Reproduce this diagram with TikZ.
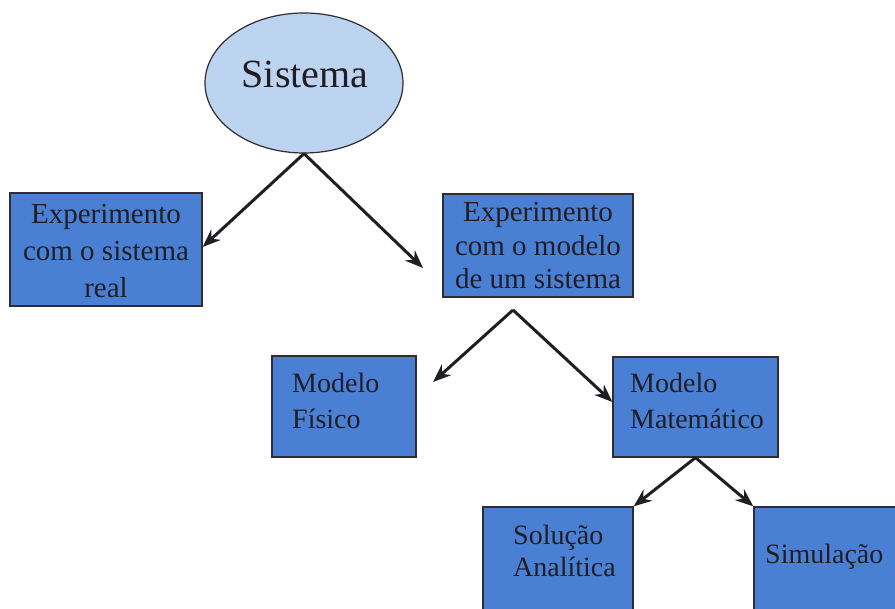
\documentclass[tikz,border=0pt]{standalone}
\usepackage{fontspec}
\setmainfont{Liberation Serif}
\usetikzlibrary{arrows.meta,shapes.geometric}
\definecolor{boxblue}{RGB}{74,128,212}
\definecolor{ellblue}{RGB}{188,212,240}
\definecolor{inkgray}{RGB}{32,30,36}
\definecolor{edgegray}{RGB}{45,45,50}
\tikzset{
  boxshape/.style={draw=edgegray, line width=1.3pt, fill=boxblue, rectangle, inner sep=0pt},
  txt/.style={text=inkgray, inner sep=0pt, font=\fontsize{28}{36}\selectfont},
  arr/.style={draw=inkgray, line width=3pt, -{Stealth[length=18pt,width=14pt]}},
}
\begin{document}
\begin{tikzpicture}[x=1pt,y=-1pt]
  \useasboundingbox (0,0) rectangle (895,609);
  \clip (0,0) rectangle (895,609);
  \fill[white] (0,0) rectangle (895,609);

  % root ellipse
  \node[draw=edgegray, line width=1.2pt, fill=ellblue, ellipse, minimum width=198pt, minimum height=140pt, inner sep=0pt] (sis) at (304,83) {};
  \node[text=inkgray, inner sep=0pt, font=\fontsize{40}{44}\selectfont] (sist) at (305,74) {Sistema};

  % boxes
  \node[boxshape, minimum width=192pt, minimum height=113pt] (real) at (106,249.5) {};
  \node[txt, align=center, font=\fontsize{29}{37}\selectfont] (realt) at (106,251) {Experimento\\com o sistema\\real};

  \node[boxshape, minimum width=190pt, minimum height=103pt] (mod) at (538,245.5) {};
  \node[txt, align=center, font=\fontsize{29}{33.5}\selectfont] (modt) at (538,246) {Experimento\\com o modelo\\de um sistema};

  \node[boxshape, minimum width=144pt, minimum height=101pt] (fis) at (344,406.5) {};
  \node[txt, align=left, anchor=west] (fist) at (292,401) {Modelo\\Físico};

  \node[boxshape, minimum width=165pt, minimum height=100pt] (mat) at (695.5,407) {};
  \node[txt, align=left, anchor=west] (matt) at (630,401) {Modelo\\Matemático};

  \node[boxshape, minimum width=150pt, minimum height=120pt] (ana) at (558,567) {};
  \node[txt, align=left, anchor=west, font=\fontsize{28}{32}\selectfont] (anat) at (513,551) {Solução\\Analítica};

  \node[boxshape, minimum width=160pt, minimum height=120pt] (sim) at (834,567) {};
  \node[txt, anchor=west] (simt) at (765,557) {Simulação};

  % branch points and arrow tips
  \coordinate (j1) at (sis.south);
  \coordinate (t1) at (423,268);
  \coordinate (j2) at (513,310);
  \coordinate (t2) at (433,382);
  \coordinate (j3) at (mat.south);

  \draw[arr] (j1) -- (real.east |- 0,247);
  \draw[arr] (j1) -- (t1);
  \draw[arr] (j2) -- (t2);
  \draw[arr] (j2) -- (mat.west |- 0,402);
  \draw[arr] (j3) -- (ana.north east);
  \draw[arr] (j3) -- (sim.north west);
\end{tikzpicture}
\end{document}
